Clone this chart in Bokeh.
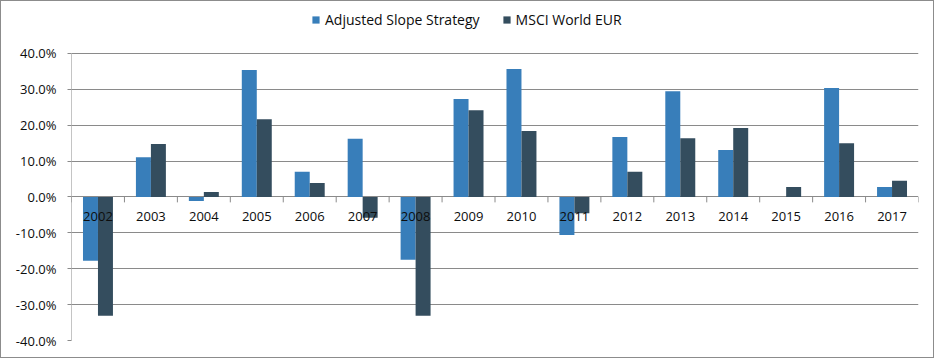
from bokeh.plotting import figure
from bokeh.models import (ColumnDataSource, FactorRange, Range1d, NumeralTickFormatter,
                          FixedTicker, Legend, LegendItem)
from bokeh.core.properties import value
from bokeh.transform import dodge
from bokeh.embed import file_html
from bokeh.resources import INLINE

years = ["2002", "2003", "2004", "2005", "2006", "2007", "2008", "2009",
         "2010", "2011", "2012", "2013", "2014", "2015", "2016", "2017"]
strategy = [-0.178, 0.111, -0.011, 0.354, 0.070, 0.162, -0.175, 0.273,
            0.357, -0.106, 0.167, 0.295, 0.131, 0.000, 0.304, 0.028]
msci = [-0.331, 0.148, 0.014, 0.217, 0.039, -0.058, -0.331, 0.242,
        0.184, -0.045, 0.070, 0.164, 0.192, 0.028, 0.150, 0.045]
series_names = ["Adjusted Slope Strategy", "MSCI World EUR"]
y_ticks = [-0.4, -0.3, -0.2, -0.1, 0.0, 0.1, 0.2, 0.3, 0.4]

BLUE = "#387eba"
DARK = "#344d5e"
GRID = "#8a8a8a"
TEXT = "#0d0d0d"
FONT = "Open Sans"

src = ColumnDataSource(dict(year=years, s=strategy, m=msci, zero=[0.0] * len(years)))
last = ColumnDataSource(dict(year=[years[-1]], zero=[0.0]))
first = ColumnDataSource(dict(year=[years[0]], lo=[min(y_ticks)], hi=[max(y_ticks)]))

# frame extends above the 40% line to leave room for the legend
p = figure(x_range=FactorRange(*years), y_range=Range1d(-0.4, 0.517),
           width=934, height=358, output_backend="svg", toolbar_location=None,
           min_border_left=70, min_border_right=17, min_border_top=10, min_border_bottom=19)
p.styles = {"border": "1px solid #8c8c8c", "box-sizing": "border-box"}

bw = 0.283
r1 = p.vbar(x=dodge("year", -bw / 2, range=p.x_range), top="s", bottom=0, width=bw,
            source=src, fill_color=BLUE, line_color=None)
r2 = p.vbar(x=dodge("year", bw / 2, range=p.x_range), top="m", bottom=0, width=bw,
            source=src, fill_color=DARK, line_color=None)

# y axis line, limited to the tick span
p.segment(x0=dodge("year", -0.5, range=p.x_range), x1=dodge("year", -0.5, range=p.x_range),
          y0="lo", y1="hi", source=first, line_color=GRID, line_width=1)

# category boundary tick marks on the zero line
p.segment(x0=dodge("year", -0.5, range=p.x_range), x1=dodge("year", -0.5, range=p.x_range),
          y0="zero", y1=-0.015, source=src, line_color=GRID, line_width=1)
p.segment(x0=dodge("year", 0.5, range=p.x_range), x1=dodge("year", 0.5, range=p.x_range),
          y0="zero", y1=-0.015, source=last, line_color=GRID, line_width=1)

# category labels just under the zero line
p.text(x="year", y="zero", text="year", source=src, text_align="center",
       text_baseline="top", y_offset=15, text_font=value(FONT),
       text_font_size="13px", text_color=TEXT)

p.outline_line_color = None
p.xgrid.grid_line_color = None
p.xaxis.visible = False
p.ygrid.grid_line_color = GRID
p.ygrid.grid_line_width = 1
p.yaxis.ticker = FixedTicker(ticks=y_ticks)
p.ygrid.ticker = FixedTicker(ticks=y_ticks)
p.yaxis.formatter = NumeralTickFormatter(format="0.0%")
p.yaxis.axis_line_color = None
p.yaxis.major_tick_line_color = GRID
p.yaxis.major_tick_out = 4
p.yaxis.major_tick_in = 0
p.yaxis.minor_tick_line_color = None
p.yaxis.major_label_standoff = 11
p.yaxis.major_label_text_font = FONT
p.yaxis.major_label_text_font_size = "13px"
p.yaxis.major_label_text_color = TEXT

legend = Legend(items=[LegendItem(label=series_names[0], renderers=[r1]),
                       LegendItem(label=series_names[1], renderers=[r2])],
                orientation="horizontal", location=(240, 311),
                label_text_font=FONT, label_text_font_size="14px", label_text_color=TEXT,
                glyph_width=9, glyph_height=9, label_standoff=5, spacing=22,
                padding=2, margin=0, border_line_color=None, background_fill_alpha=0)
p.add_layout(legend)

open("out.html", "w").write(file_html(p, INLINE))
